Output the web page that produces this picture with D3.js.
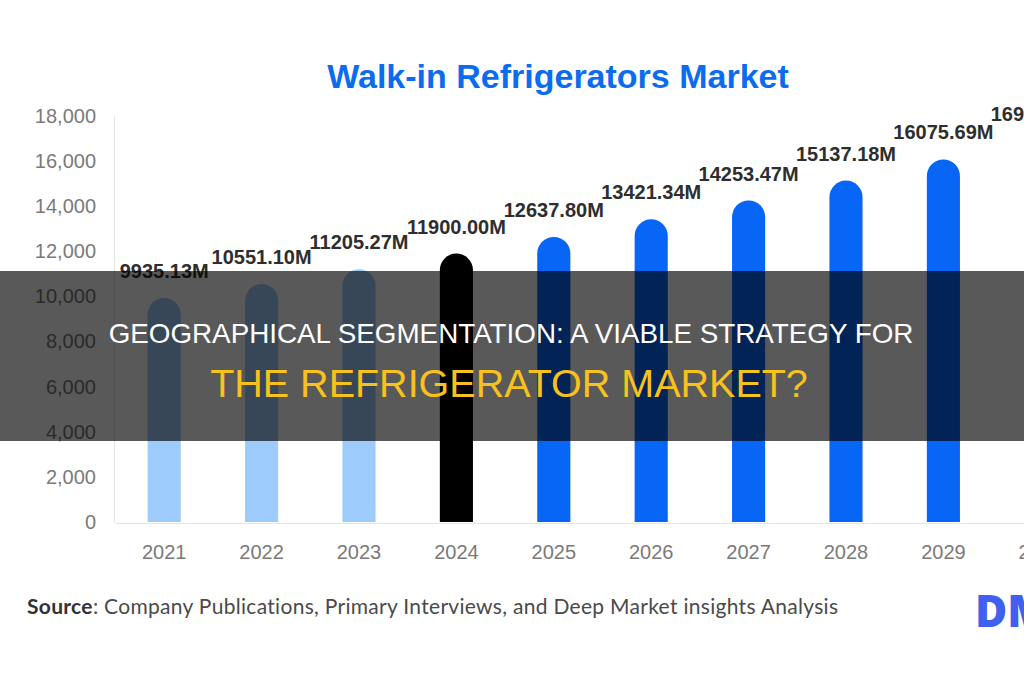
<!DOCTYPE html>
<html lang="en">
<head>
    <meta charset="UTF-8">
    <title>Walk-in Refrigerators Market</title>
    <style>
        body { margin: 0; background: #fff; }
        svg { display: block; }
    </style>
</head>
<body>

<div id="chart"></div>

<script src="https://d3js.org/d3.v7.min.js"></script>
<script>
    // Market size by year (USD million)
    var years = ["2021", "2022", "2023", "2024", "2025", "2026", "2027", "2028", "2029", "2030"];
    var values = [9935.13, 10551.10, 11205.27, 11900.00, 12637.80, 13421.34, 14253.47, 15137.18, 16075.69, 16905.00];
    var yTicks = [0, 2000, 4000, 6000, 8000, 10000, 12000, 14000, 16000, 18000];
    // 2021-2023 historic, 2024 base year, rest forecast
    var periods = ["hist", "hist", "hist", "base", "fcst", "fcst", "fcst", "fcst", "fcst", "fcst"];

    var colors = { hist: "#9dcbfb", base: "#000000", fcst: "#0866f6" };

    var width = 1024, height = 680;
    var font = "'Liberation Sans', Arial, sans-serif";

    var svg = d3.select("#chart").append("svg")
        .attr("width", width)
        .attr("height", height);

    var x = d3.scaleBand()
        .domain(years)
        .range([115.5, 1089.5])
        .paddingInner(0.66)
        .paddingOuter(0.33);

    var y = d3.scaleLinear()
        .domain([0, 18000])
        .range([522, 116]);

    // title
    svg.append("text")
        .attr("x", 558)
        .attr("y", 88)
        .attr("text-anchor", "middle")
        .style("font-family", font)
        .style("font-weight", "bold")
        .style("font-size", "34px")
        .style("fill", "#0b6cf0")
        .text("Walk-in Refrigerators Market");

    // y axis
    var yAxis = svg.append("g")
        .attr("transform", "translate(114,0)")
        .call(d3.axisLeft(y).tickValues(yTicks).tickFormat(d3.format(",")).tickSize(0).tickPadding(18));
    yAxis.select(".domain").attr("stroke", "#e4e4e4");
    yAxis.selectAll("text")
        .style("font-family", font)
        .style("font-size", "20px")
        .style("fill", "#7a7a7a");

    // x axis
    var xAxis = svg.append("g")
        .attr("transform", "translate(0,523)")
        .call(d3.axisBottom(x).tickSize(0).tickPadding(22));
    xAxis.select(".domain").attr("stroke", "#e4e4e4");
    xAxis.selectAll("text")
        .style("font-family", font)
        .style("font-size", "20px")
        .style("fill", "#7a7a7a");

    var data = years.map(function(yr, i) {
        return { year: yr, value: values[i], period: periods[i] };
    });

    // bars with rounded tops
    svg.selectAll(".bar")
        .data(data)
        .enter().append("path")
        .attr("class", "bar")
        .attr("fill", d => colors[d.period])
        .attr("d", function(d) {
            var x0 = x(d.year), w = x.bandwidth(), r = w / 2;
            var top = y(d.value), base = y(0);
            return "M" + x0 + "," + base +
                "V" + (top + r) +
                "A" + r + "," + r + " 0 0 1 " + (x0 + w) + "," + (top + r) +
                "V" + base + "Z";
        });

    // value labels
    svg.selectAll(".val")
        .data(data)
        .enter().append("text")
        .attr("class", "val")
        .attr("x", d => x(d.year) + x.bandwidth() / 2)
        .attr("y", d => y(d.value) - 20)
        .attr("text-anchor", "middle")
        .style("font-family", font)
        .style("font-weight", "bold")
        .style("font-size", "20px")
        .style("fill", "#2e2e2e")
        .text(d => d.value.toFixed(2) + "M");

    // source line
    var src = svg.append("text")
        .attr("x", 27)
        .attr("y", 614)
        .style("font-family", "Lato, sans-serif")
        .style("font-size", "21px")
        .style("letter-spacing", "0.3px")
        .style("fill", "#4a4a4a");
    src.append("tspan").style("font-weight", "bold").style("fill", "#333").text("Source");
    src.append("tspan").text(": Company Publications, Primary Interviews, and Deep Market insights Analysis");

    // logo
    svg.append("text")
        .attr("x", 975)
        .attr("y", 627)
        .style("font-family", "'Open Sans', sans-serif")
        .style("font-weight", "800")
        .style("font-size", "44px")
        .style("fill", "#4060f0")
        .text("DM");

    // headline overlay band
    svg.append("rect")
        .attr("x", 0)
        .attr("y", 271)
        .attr("width", width)
        .attr("height", 170)
        .attr("fill", "rgba(0,0,0,0.65)");

    svg.append("text")
        .attr("x", 511)
        .attr("y", 343)
        .attr("text-anchor", "middle")
        .style("font-family", font)
        .style("font-size", "27.8px")
        .style("fill", "#ffffff")
        .text("GEOGRAPHICAL SEGMENTATION: A VIABLE STRATEGY FOR");

    svg.append("text")
        .attr("x", 509)
        .attr("y", 397)
        .attr("text-anchor", "middle")
        .style("font-family", font)
        .style("font-size", "39.5px")
        .style("fill", "#f7c21d")
        .text("THE REFRIGERATOR MARKET?");
</script>

</body>
</html>
